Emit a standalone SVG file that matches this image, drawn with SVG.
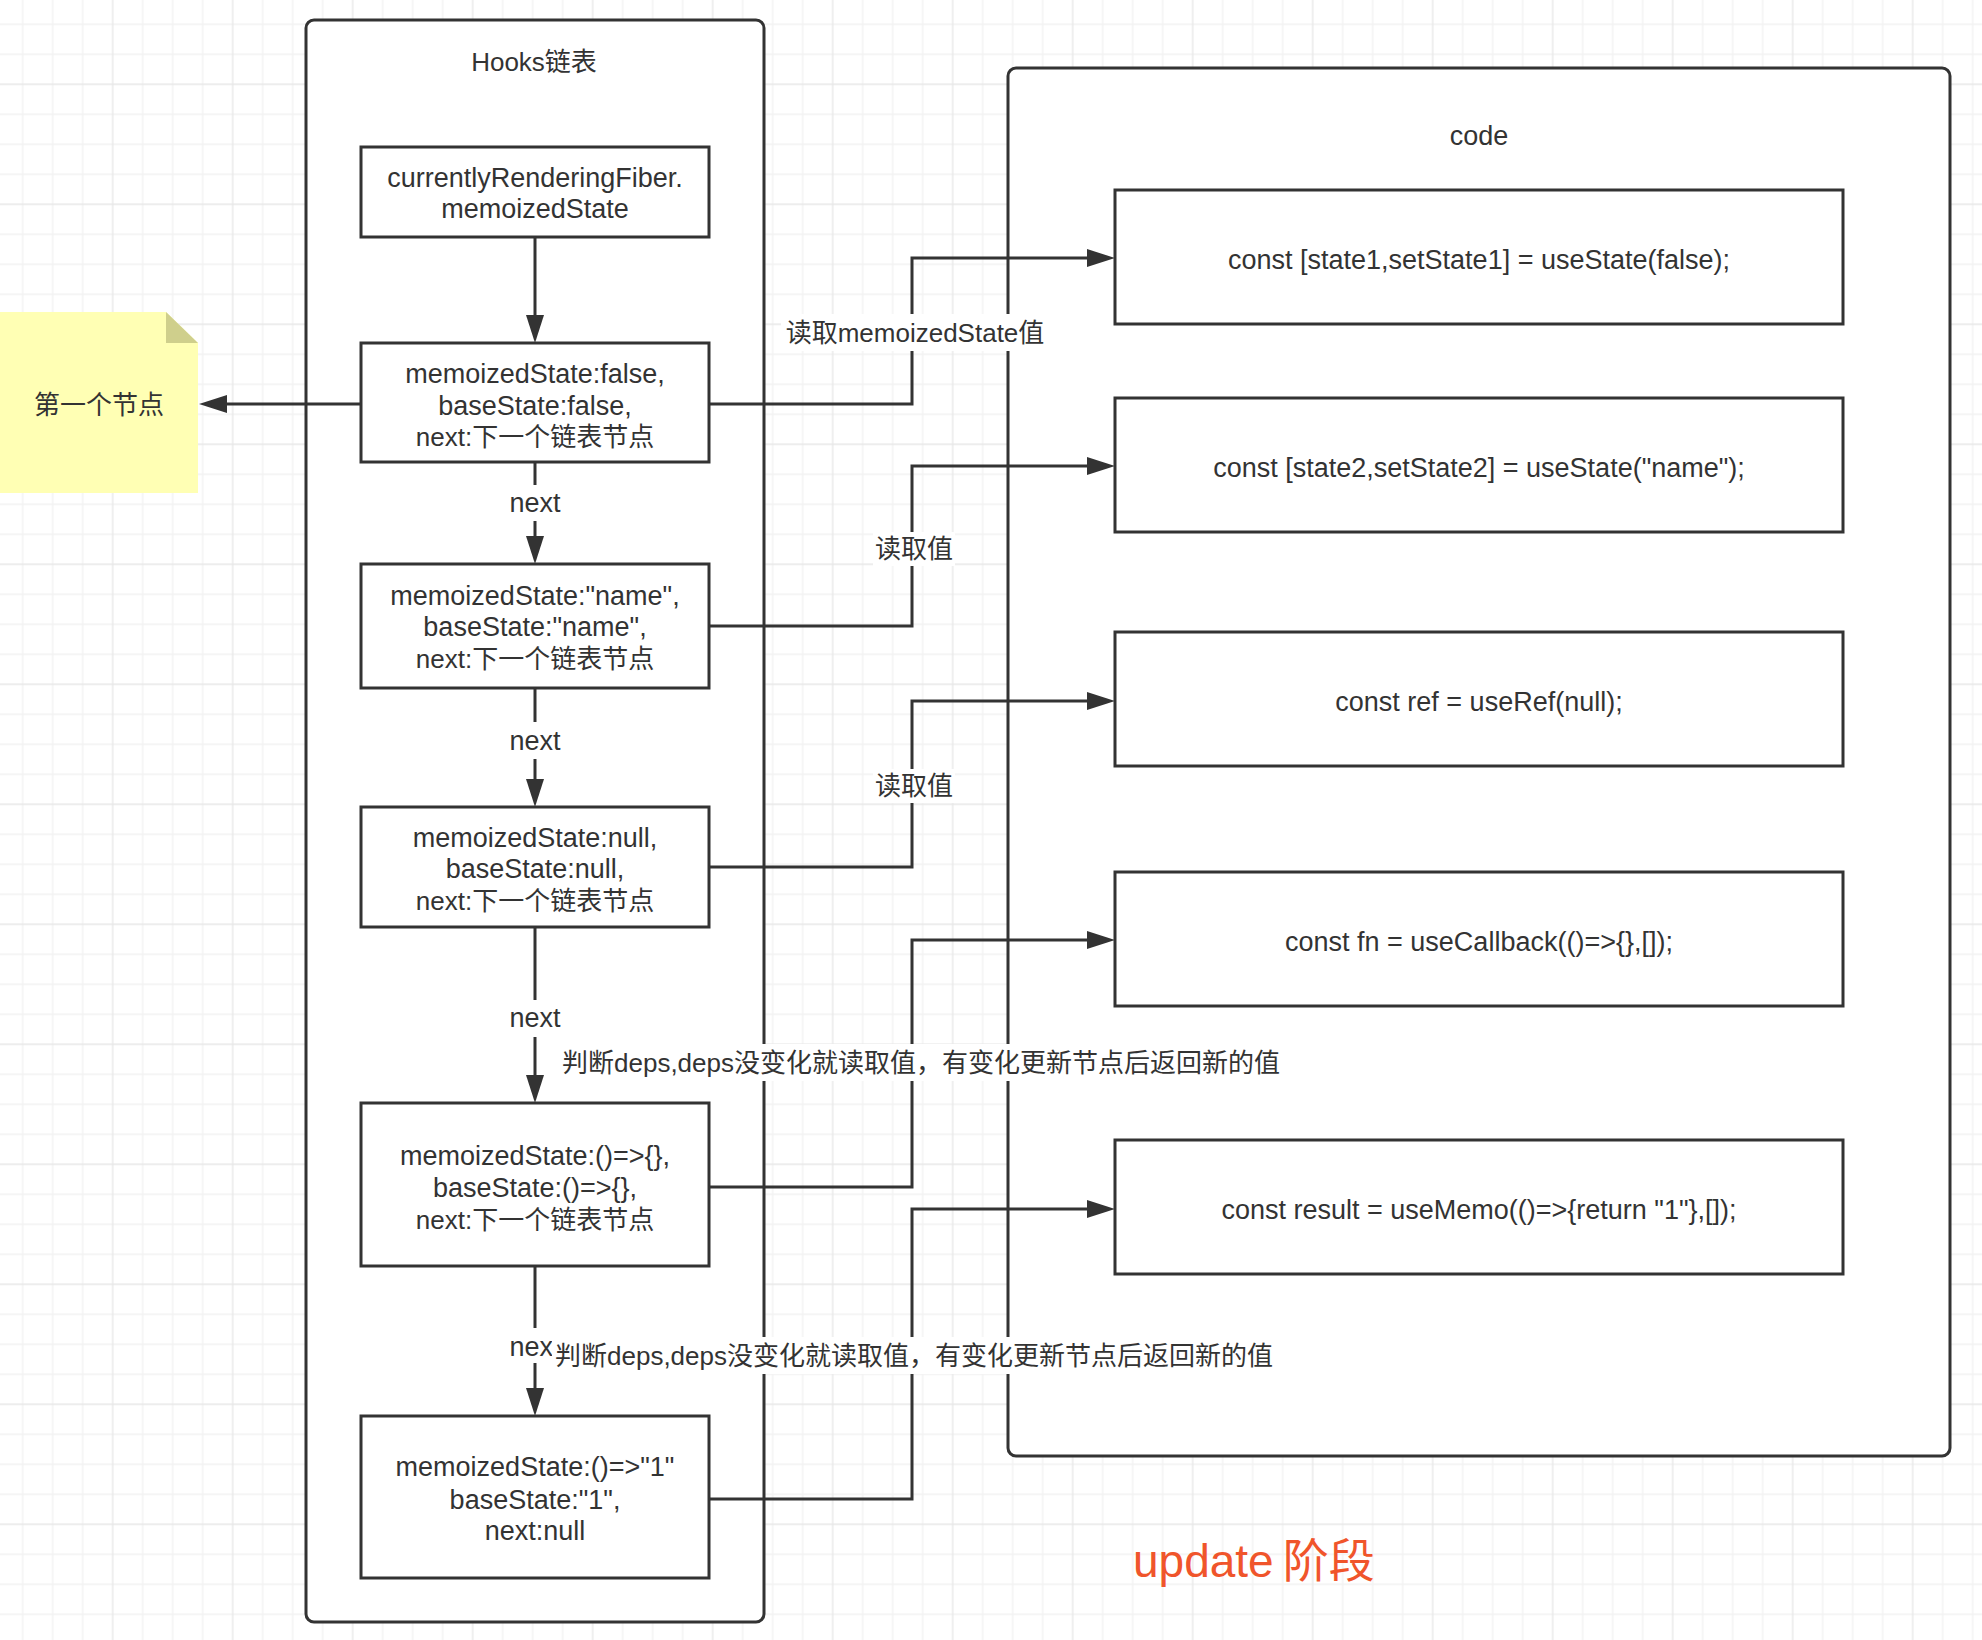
<svg xmlns="http://www.w3.org/2000/svg" width="1982" height="1640" viewBox="0 0 1982 1640">
  <style>
    text { font-family: "Liberation Sans", "Noto Sans CJK SC", sans-serif; fill: #333333; }
    .t { font-size: 26px; text-anchor: middle; }
    .l { font-size: 27px; text-anchor: middle; }
    .box { fill: #ffffff; stroke: #333333; stroke-width: 3; }
    .frame { fill: #ffffff; stroke: #333333; stroke-width: 3; }
    .edge { fill: none; stroke: #333333; stroke-width: 3; stroke-linejoin: miter; }
    .lbg { fill: #ffffff; }
    .title { font-size: 46px; fill: #f0552b; }
  </style>
  <defs>
    <pattern id="grid" x="7.7" y="9.3" width="120" height="120" patternUnits="userSpaceOnUse">
      <g stroke="#f2f2f2" stroke-width="1.3">
        <line x1="15" y1="0" x2="15" y2="120"/>
        <line x1="45" y1="0" x2="45" y2="120"/>
        <line x1="75" y1="0" x2="75" y2="120"/>
        <line x1="0" y1="15" x2="120" y2="15"/>
        <line x1="0" y1="45" x2="120" y2="45"/>
        <line x1="0" y1="105" x2="120" y2="105"/>
      </g>
      <g stroke="#e7e7e7" stroke-width="1.3">
        <line x1="105" y1="0" x2="105" y2="120"/>
        <line x1="0" y1="75" x2="120" y2="75"/>
      </g>
    </pattern>
    <marker id="arrow" viewBox="0 0 28 18" refX="18" refY="9" markerWidth="28" markerHeight="18" markerUnits="userSpaceOnUse" orient="auto">
      <path d="M0,0 L28,9 L0,18 Z" fill="#333333"/>
    </marker>
  </defs>

  <!-- background grid -->
  <rect x="0" y="0" width="1982" height="1640" fill="#ffffff"/>
  <rect x="0" y="0" width="1982" height="1640" fill="url(#grid)"/>

  <!-- sticky note -->
  <g id="note-first">
    <path d="M0,312 H166 L198,343 V493 H0 Z" fill="#ffffb4"/>
    <path d="M166,312 V343 H198 Z" fill="#cfcf8c"/>
    <text class="t" x="99" y="414">第一个节点</text>
  </g>

  <!-- hooks list container -->
  <g id="hooks-list">
    <rect class="frame" x="306" y="20" width="458" height="1602" rx="8"/>
    <text class="t" x="534" y="71">Hooks链表</text>
  </g>

  <!-- code container -->
  <g id="code">
    <rect class="frame" x="1008" y="68" width="942" height="1388" rx="8"/>
    <text class="l" x="1479" y="145">code</text>
  </g>

  <!-- hook nodes -->
  <g id="fiber-state">
    <rect class="box" x="361" y="147" width="348" height="90"/>
    <text class="l" x="535" y="187">currentlyRenderingFiber.</text>
    <text class="l" x="535" y="218">memoizedState</text>
  </g>
  <g id="hook-1">
    <rect class="box" x="361" y="343" width="348" height="119"/>
    <text class="l" x="535" y="383">memoizedState:false,</text>
    <text class="l" x="535" y="415">baseState:false,</text>
    <text class="t" x="535" y="446">next:下一个链表节点</text>
  </g>
  <g id="hook-2">
    <rect class="box" x="361" y="564" width="348" height="124"/>
    <text class="l" x="535" y="605">memoizedState:"name",</text>
    <text class="l" x="535" y="636">baseState:"name",</text>
    <text class="t" x="535" y="668">next:下一个链表节点</text>
  </g>
  <g id="hook-3">
    <rect class="box" x="361" y="807" width="348" height="120"/>
    <text class="l" x="535" y="847">memoizedState:null,</text>
    <text class="l" x="535" y="878">baseState:null,</text>
    <text class="t" x="535" y="910">next:下一个链表节点</text>
  </g>
  <g id="hook-4">
    <rect class="box" x="361" y="1103" width="348" height="163"/>
    <text class="l" x="535" y="1165">memoizedState:()=&gt;{},</text>
    <text class="l" x="535" y="1197">baseState:()=&gt;{},</text>
    <text class="t" x="535" y="1229">next:下一个链表节点</text>
  </g>
  <g id="hook-5">
    <rect class="box" x="361" y="1416" width="348" height="162"/>
    <text class="l" x="535" y="1476">memoizedState:()=&gt;"1"</text>
    <text class="l" x="535" y="1509">baseState:"1",</text>
    <text class="l" x="535" y="1540">next:null</text>
  </g>

  <!-- code lines -->
  <g id="code-1">
    <rect class="box" x="1115" y="190" width="728" height="134"/>
    <text class="l" x="1479" y="269">const [state1,setState1] = useState(false);</text>
  </g>
  <g id="code-2">
    <rect class="box" x="1115" y="398" width="728" height="134"/>
    <text class="l" x="1479" y="477">const [state2,setState2] = useState("name");</text>
  </g>
  <g id="code-3">
    <rect class="box" x="1115" y="632" width="728" height="134"/>
    <text class="l" x="1479" y="711">const ref = useRef(null);</text>
  </g>
  <g id="code-4">
    <rect class="box" x="1115" y="872" width="728" height="134"/>
    <text class="l" x="1479" y="951">const fn = useCallback(()=&gt;{},[]);</text>
  </g>
  <g id="code-5">
    <rect class="box" x="1115" y="1140" width="728" height="134"/>
    <text class="l" x="1479" y="1219">const result = useMemo(()=&gt;{return "1"},[]);</text>
  </g>

  <!-- connectors -->
  <g id="connectors">
    <path class="edge" d="M361,404 H209" marker-end="url(#arrow)"/>
    <path class="edge" d="M535,237 V333" marker-end="url(#arrow)"/>
    <path class="edge" d="M535,462 V554" marker-end="url(#arrow)"/>
    <path class="edge" d="M535,688 V797" marker-end="url(#arrow)"/>
    <path class="edge" d="M535,927 V1093" marker-end="url(#arrow)"/>
    <path class="edge" d="M535,1266 V1406" marker-end="url(#arrow)"/>
    <path class="edge" d="M709,404 H912 V258 H1105" marker-end="url(#arrow)"/>
    <path class="edge" d="M709,626 H912 V466 H1105" marker-end="url(#arrow)"/>
    <path class="edge" d="M709,867 H912 V701 H1105" marker-end="url(#arrow)"/>
    <path class="edge" d="M709,1187 H912 V940 H1105" marker-end="url(#arrow)"/>
    <path class="edge" d="M709,1499 H912 V1209 H1105" marker-end="url(#arrow)"/>
  </g>

  <!-- connector labels -->
  <g id="edge-labels">
    <rect class="lbg" x="508" y="485" width="54" height="36"/>
    <text class="l" x="535" y="512">next</text>
    <rect class="lbg" x="508" y="722" width="54" height="37"/>
    <text class="l" x="535" y="750">next</text>
    <rect class="lbg" x="508" y="1000" width="54" height="37"/>
    <text class="l" x="535" y="1027">next</text>
    <rect class="lbg" x="508" y="1328" width="54" height="35"/>
    <text class="l" x="535" y="1356">next</text>

    <rect class="lbg" x="781" y="314" width="268" height="37"/>
    <text class="t" x="915" y="342">读取memoizedState值</text>
    <rect class="lbg" x="873" y="532" width="82" height="34"/>
    <text class="t" x="914" y="558">读取值</text>
    <rect class="lbg" x="873" y="769" width="82" height="34"/>
    <text class="t" x="914" y="795">读取值</text>

    <rect class="lbg" x="558" y="1044" width="726" height="37"/>
    <text class="t" x="921" y="1072">判断deps,deps没变化就读取值，有变化更新节点后返回新的值</text>
    <rect class="lbg" x="552" y="1337" width="726" height="37"/>
    <text class="t" x="914" y="1365">判断deps,deps没变化就读取值，有变化更新节点后返回新的值</text>
  </g>

  <!-- stage caption -->
  <text class="title" x="1133" y="1577">update<tspan dx="9">阶段</tspan></text>
</svg>
